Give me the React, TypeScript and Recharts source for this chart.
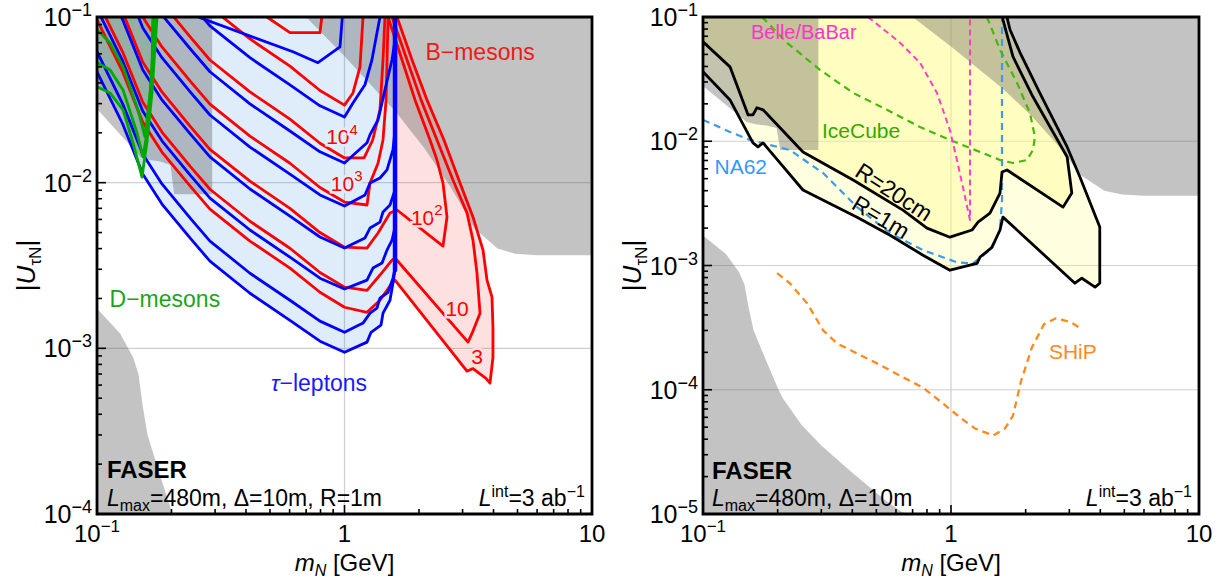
import React from "react";
import {
  ComposedChart,
  XAxis,
  YAxis,
  Scatter,
  ReferenceLine,
  ReferenceArea,
  ReferenceDot
} from "recharts";

type Pair = [number, number];

// axis ticks (log axes, minor ticks at 2..9)
const massTicks = [0.1, 0.2, 0.3, 0.4, 0.5, 0.6, 0.7, 0.8, 0.9, 1, 2, 3, 4, 5, 6, 7, 8, 9, 10];
const mixTicksLeft = [
  0.0001, 0.0002, 0.0003, 0.0004, 0.0005, 0.0006, 0.0007, 0.0008, 0.0009,
  0.001, 0.002, 0.003, 0.004, 0.005, 0.006, 0.007, 0.008, 0.009,
  0.01, 0.02, 0.03, 0.04, 0.05, 0.06, 0.07, 0.08, 0.09, 0.1
];
const mixTicksRight = [
  0.00001, 0.00002, 0.00003, 0.00004, 0.00005, 0.00006, 0.00007, 0.00008, 0.00009,
  ...mixTicksLeft
];
const gridMass = [1];
const gridMixLeft = [0.01, 0.001];
const gridMixRight = [0.01, 0.001, 0.0001];

// excluded regions (grey), same in both panels
const exclUpperLeft: Pair[] = [
  [0.1, 0.13], [0.292, 0.13], [0.292, 0.0085], [0.205, 0.0085], [0.198, 0.0128],
  [0.18, 0.0134], [0.163, 0.0137], [0.15, 0.0143], [0.1, 0.0278]
];
const exclUpperRight: Pair[] = [
  [0.7, 0.13], [0.7, 0.1], [1.0, 0.058], [1.62, 0.0265], [2.1, 0.0162], [2.7, 0.0093],
  [3.35, 0.0053], [4.15, 0.004], [4.9, 0.00372], [6.0, 0.00365], [10.5, 0.00365], [10.5, 0.13]
];
const exclLowerLeft: Pair[] = [
  [0.1, 0.00174], [0.124, 0.00123], [0.14, 0.00088], [0.147, 0.0007], [0.153, 0.00045],
  [0.16, 0.0003], [0.18, 0.00017], [0.2, 0.000104], [0.21, 0.000085], [0.25, 0.000052],
  [0.3, 0.0000356], [0.4, 0.0000215], [0.54, 0.000013], [0.65, 0.00001], [0.7, 0.000009],
  [0.1, 0.000009]
];

// tau-lepton contours (blue)
const tauA1: Pair[] = [
  [0.1, 0.0467], [0.127, 0.0226], [0.153, 0.01127], [0.183, 0.00743], [0.238, 0.00462],
  [0.286, 0.00336], [0.415, 0.00215], [0.602, 0.001476], [0.796, 0.001104], [1.0, 0.000946],
  [1.233, 0.00109], [1.28, 0.00125], [1.404, 0.00138], [1.431, 0.00163], [1.527, 0.00195],
  [1.57, 0.00248], [1.6, 0.00297]
];
const tauA2: Pair[] = [
  [0.1, 0.0617], [0.127, 0.0299], [0.153, 0.0149], [0.183, 0.00982], [0.238, 0.00611],
  [0.286, 0.00444], [0.415, 0.00284], [0.602, 0.00195], [0.796, 0.00146], [1.0, 0.00125],
  [1.188, 0.00142], [1.268, 0.00163], [1.352, 0.00175], [1.391, 0.00201], [1.499, 0.00218],
  [1.57, 0.00265], [1.6, 0.0031]
];
const tauA3: Pair[] = [
  [0.1, 0.112], [0.127, 0.0543], [0.153, 0.0271], [0.183, 0.0179], [0.238, 0.0111],
  [0.286, 0.00807], [0.415, 0.00518], [0.602, 0.00355], [0.796, 0.00265], [1.0, 0.00228],
  [1.233, 0.00258], [1.303, 0.00305], [1.418, 0.00327], [1.485, 0.00392], [1.556, 0.0045],
  [1.6, 0.0054]
];
const tauA4: Pair[] = [
  [0.1, 0.199], [0.127, 0.0962], [0.153, 0.048], [0.183, 0.0316], [0.238, 0.0197],
  [0.286, 0.0143], [0.415, 0.00916], [0.602, 0.00628], [0.796, 0.0047], [1.0, 0.00403],
  [1.21, 0.00464], [1.268, 0.00532], [1.391, 0.00578], [1.431, 0.00666], [1.527, 0.00733],
  [1.6, 0.00904]
];
const tauA5: Pair[] = [
  [0.127, 0.173], [0.153, 0.0861], [0.183, 0.0568], [0.238, 0.0353], [0.286, 0.0256],
  [0.415, 0.0164], [0.602, 0.01127], [0.796, 0.00843], [1.0, 0.00722], [1.21, 0.00843],
  [1.268, 0.00995], [1.391, 0.01067], [1.485, 0.01194], [1.57, 0.0158], [1.6, 0.0209]
];
const tauA6: Pair[] = [
  [0.153, 0.157], [0.183, 0.103], [0.238, 0.0643], [0.286, 0.0467], [0.415, 0.0299],
  [0.602, 0.0205], [0.796, 0.01535], [1.0, 0.01315], [1.233, 0.0174], [1.268, 0.0195],
  [1.366, 0.0239], [1.457, 0.0363], [1.556, 0.0552], [1.6, 0.0729]
];
const tauA7: Pair[] = [
  [0.183, 0.196], [0.238, 0.122], [0.286, 0.0885], [0.415, 0.0568], [0.602, 0.0389],
  [0.796, 0.0291], [1.0, 0.0249], [1.082, 0.0303], [1.21, 0.039], [1.291, 0.0552],
  [1.353, 0.0804], [1.391, 0.1], [1.4, 0.13]
];
const tauA8: Pair[] = [
  [0.2, 0.13], [0.261, 0.099], [0.619, 0.0617], [0.781, 0.053], [0.959, 0.066], [0.98, 0.1], [0.99, 0.13]
];
const tauEdge: Pair[] = [[1.6, 0.00297], [1.6, 0.13]];

// B-meson contours (red): 3, 10, 10^2 ... 10^6
const bm3Left: Pair[] = [
  [0.1, 0.0962], [0.127, 0.0466], [0.153, 0.0232], [0.183, 0.0153], [0.238, 0.00954],
  [0.286, 0.00693], [0.415, 0.00444], [0.602, 0.00305], [0.796, 0.00218], [1.0, 0.00177],
  [1.233, 0.00165], [1.391, 0.00195], [1.556, 0.00248]
];
const bm3Right: Pair[] = [
  [1.6, 0.00258], [3.126, 0.000728], [3.304, 0.000755], [3.73, 0.000659], [3.871, 0.000617],
  [3.98, 0.000883], [3.98, 0.00134], [3.944, 0.00204], [3.765, 0.00258], [3.628, 0.00392],
  [3.304, 0.00621], [2.929, 0.00995], [2.523, 0.0181], [2.154, 0.0316], [1.874, 0.0552],
  [1.63, 0.1], [1.6, 0.13]
];
const bm10Left: Pair[] = [
  [0.1, 0.127], [0.127, 0.0614], [0.153, 0.0307], [0.183, 0.0202], [0.238, 0.01254],
  [0.286, 0.00913], [0.415, 0.00585], [0.602, 0.00402], [0.796, 0.00287], [1.0, 0.00234],
  [1.233, 0.00224], [1.391, 0.00277], [1.556, 0.00341]
];
const bm10Right: Pair[] = [
  [1.6, 0.00351], [3.155, 0.00109], [3.275, 0.00123], [3.528, 0.00163], [3.43, 0.00284],
  [3.304, 0.0045], [3.126, 0.00656], [2.743, 0.01038], [2.364, 0.0181], [2.038, 0.0316],
  [1.788, 0.0552], [1.556, 0.1], [1.53, 0.13]
];
const bm100Left: Pair[] = [
  [0.1, 0.221], [0.127, 0.107], [0.153, 0.0535], [0.183, 0.0353], [0.238, 0.0219],
  [0.286, 0.0159], [0.415, 0.01022], [0.602, 0.007], [0.796, 0.005], [1.0, 0.00408],
  [1.233, 0.00403], [1.366, 0.00497], [1.527, 0.00656]
];
const bm100Right: Pair[] = [
  [1.63, 0.00684], [2.5, 0.00414], [2.595, 0.00621], [2.5, 0.00995], [2.364, 0.0137],
  [2.216, 0.0181], [1.927, 0.0316], [1.707, 0.0552], [1.499, 0.1], [1.47, 0.13]
];
const bm1e3: Pair[] = [
  [0.127, 0.2], [0.153, 0.1], [0.183, 0.066], [0.238, 0.041], [0.286, 0.0298], [0.415, 0.0191],
  [0.602, 0.0131], [0.796, 0.00935], [1.0, 0.00764], [1.233, 0.00733], [1.268, 0.00995],
  [1.366, 0.0131], [1.431, 0.0181], [1.472, 0.0316], [1.5, 0.1], [1.5, 0.13]
];
const bm1e4: Pair[] = [
  [0.153, 0.185], [0.183, 0.122], [0.238, 0.0758], [0.286, 0.055], [0.415, 0.0353],
  [0.602, 0.0242], [0.796, 0.0173], [1.0, 0.0141], [1.2, 0.0141], [1.3, 0.0181],
  [1.391, 0.0275], [1.431, 0.0552], [1.457, 0.1], [1.46, 0.13]
];
const bm1e5: Pair[] = [
  [0.238, 0.158], [0.286, 0.115], [0.415, 0.0737], [0.602, 0.0505], [0.796, 0.036],
  [1.0, 0.0294], [1.082, 0.0348], [1.155, 0.05], [1.188, 0.1], [1.19, 0.13]
];
const bm1e6: Pair[] = [
  [0.45, 0.13], [0.486, 0.1], [0.602, 0.0804], [0.796, 0.0804], [0.81, 0.1], [0.82, 0.13]
];

// D-meson contours (green)
const dmG1: Pair[] = [
  [0.1, 0.0379], [0.1128, 0.0348], [0.1274, 0.0275], [0.1398, 0.0174], [0.152, 0.0108],
  [0.159, 0.0174], [0.1668, 0.0348], [0.1748, 0.1], [0.176, 0.13]
];
const dmG2: Pair[] = [
  [0.1, 0.053], [0.1128, 0.048], [0.1274, 0.0363], [0.145, 0.02], [0.1534, 0.0143],
  [0.1607, 0.0217], [0.1715, 0.1], [0.172, 0.13]
];
const dmG3: Pair[] = [
  [0.1, 0.0838], [0.1128, 0.0699], [0.1274, 0.05], [0.1464, 0.0275], [0.1563, 0.0189],
  [0.1668, 0.0436], [0.168, 0.1], [0.169, 0.13]
];

// right panel: FASER reach and other experiments
const reach20cm: Pair[] = [
  [0.1, 0.0632], [0.1285, 0.0397], [0.152, 0.0163], [0.159, 0.0163], [0.165, 0.0186],
  [0.1746, 0.0179], [0.253, 0.0082], [0.403, 0.00488], [0.64, 0.00279], [0.8, 0.002],
  [0.99, 0.00169], [1.215, 0.00193], [1.285, 0.00223], [1.436, 0.00264], [1.576, 0.00383],
  [1.606, 0.00565], [1.682, 0.00587], [2.83, 0.00295], [3.07, 0.00383], [2.94, 0.00747],
  [2.14, 0.0228], [1.778, 0.0479], [1.62, 0.095], [1.6, 0.13]
];
const reach1m: Pair[] = [
  [0.1, 0.0362], [0.1285, 0.0215], [0.159, 0.0097], [0.1667, 0.009], [0.1746, 0.0097],
  [0.253, 0.00405], [0.418, 0.00245], [0.568, 0.00175], [0.771, 0.00121], [0.99, 0.000916],
  [1.273, 0.00104], [1.31, 0.00117], [1.463, 0.0014], [1.576, 0.00193], [1.62, 0.00245],
  [3.16, 0.00072], [3.37, 0.00079], [3.81, 0.00067], [3.98, 0.00072], [3.98, 0.00204],
  [3.31, 0.00515], [2.94, 0.009], [2.28, 0.0245], [1.9, 0.0515], [1.73, 0.079], [1.68, 0.1],
  [1.66, 0.13]
];
const na62: Pair[] = [
  [0.1, 0.01486], [0.1285, 0.01189], [0.1547, 0.01024], [0.224, 0.0085], [0.305, 0.00555],
  [0.418, 0.00295], [0.568, 0.00182], [0.771, 0.00133], [1.057, 0.00106], [1.227, 0.00104],
  [1.436, 0.00133], [1.576, 0.00193], [1.606, 0.00337], [1.606, 0.1]
];
const iceCube: Pair[] = [
  [0.173, 0.1], [0.218, 0.0621], [0.296, 0.0376], [0.403, 0.0245], [0.552, 0.0179],
  [0.75, 0.013], [0.99, 0.01024], [1.309, 0.0082], [1.576, 0.00706], [1.778, 0.00668],
  [2.025, 0.00706], [2.14, 0.0085], [2.18, 0.01084], [2.08, 0.0169], [1.846, 0.0295],
  [1.576, 0.0545], [1.397, 0.1]
];
const belle: Pair[] = [
  [0.463, 0.1], [0.623, 0.0621], [0.75, 0.0428], [0.878, 0.0245], [0.99, 0.0123],
  [1.057, 0.00706], [1.117, 0.00428], [1.193, 0.00232], [1.193, 0.1]
];
const ship: Pair[] = [
  [0.199, 0.000867], [0.224, 0.00072], [0.263, 0.000496], [0.305, 0.000301], [0.347, 0.000236],
  [0.418, 0.000196], [0.503, 0.000163], [0.64, 0.000126], [0.771, 0.000104], [0.928, 0.0000776],
  [1.087, 0.0000598], [1.25, 0.0000488], [1.477, 0.0000428], [1.651, 0.0000488],
  [1.778, 0.000062], [1.916, 0.000117], [2.12, 0.000219], [2.37, 0.000336], [2.65, 0.000376],
  [3.05, 0.000349], [3.28, 0.000318], [3.4, 0.00033]
];

const FONT = "'Liberation Sans', Arial, Helvetica, sans-serif";
const GREY = { fill: "#5a5a5a", opacity: 0.36, closed: true };

type Style = { stroke?: string; width?: number; fill?: string; opacity?: number; dash?: string; closed?: boolean };

const toPts = (a: Pair[]) => a.map(([x, y]) => ({ x, y }));
const noDot = () => <g />;

function trace(s: Style) {
  return (props: any) => {
    const pts = (props.points || []).filter((p: any) => Number.isFinite(p.x) && Number.isFinite(p.y));
    const d =
      pts.map((p: any, i: number) => `${i ? "L" : "M"}${p.x.toFixed(2)},${p.y.toFixed(2)}`).join(" ") +
      (s.closed ? " Z" : "");
    return (
      <path
        d={d}
        fill={s.fill ?? "none"}
        fillOpacity={s.opacity}
        stroke={s.stroke ?? "none"}
        strokeWidth={s.width}
        strokeDasharray={s.dash}
        strokeLinejoin="round"
        strokeLinecap={s.dash ? "butt" : "round"}
      />
    );
  };
}

function series(key: string, data: Pair[], s: Style) {
  return (
    <Scatter
      key={key}
      name={key}
      data={toPts(data)}
      dataKey="y"
      line={trace(s)}
      shape={noDot}
      isAnimationActive={false}
      legendType="none"
    />
  );
}

function note(key: string, x: number, y: number, draw: (cx: number, cy: number) => React.ReactElement) {
  return (
    <ReferenceDot
      key={key}
      x={x}
      y={y}
      r={0}
      ifOverflow="visible"
      zIndex={2000}
      shape={(p: any) => draw(p.cx, p.cy)}
    />
  );
}

const isDecade = (v: number) => Math.abs(Math.log10(v) - Math.round(Math.log10(v))) < 1e-6;

function XTick(props: any) {
  const { x, y, payload } = props;
  const v = payload.value as number;
  const major = isDecade(v);
  const e = Math.round(Math.log10(v));
  return (
    <g>
      <line x1={x} x2={x} y1={y} y2={y - (major ? 9 : 5)} stroke="#000" strokeWidth={1.6} />
      {major && (
        <text x={x} y={y + 28} textAnchor="middle" fontSize={24} fill="#000" fontFamily={FONT}>
          {e < 0 ? (
            <>
              10<tspan dy={-10} fontSize={17}>{"\u2212" + -e}</tspan>
            </>
          ) : e === 0 ? "1" : "10"}
        </text>
      )}
    </g>
  );
}

function YTick(props: any) {
  const { x, y, payload } = props;
  const v = payload.value as number;
  const major = isDecade(v);
  const e = Math.round(Math.log10(v));
  return (
    <g>
      <line x1={x} x2={x + (major ? 9 : 5)} y1={y} y2={y} stroke="#000" strokeWidth={1.6} />
      {major && (
        <text x={x - 5} y={y + 9} textAnchor="end" fontSize={25} fill="#000" fontFamily={FONT}>
          10<tspan dy={-10} fontSize={18}>{"\u2212" + -e}</tspan>
        </text>
      )}
    </g>
  );
}

function XTitle(props: any) {
  const vb = props.viewBox || { x: 97, y: 514, width: 495, height: 64 };
  return (
    <text x={vb.x + vb.width / 2} y={vb.y + 57} textAnchor="middle" fontSize={24} fill="#000" fontFamily={FONT}>
      <tspan fontStyle="italic">m</tspan>
      <tspan fontStyle="italic" fontSize={16} dy={5}>N</tspan>
      <tspan dy={-5}> [GeV]</tspan>
    </text>
  );
}

function YTitle(props: any) {
  const vb = props.viewBox || { x: 0, y: 17, width: 97, height: 497 };
  const cx = vb.x + vb.width - 62;
  const cy = vb.y + vb.height / 2;
  return (
    <text
      x={cx}
      y={cy}
      transform={`rotate(-90 ${cx} ${cy})`}
      textAnchor="middle"
      fontSize={26}
      fill="#000"
      fontFamily={FONT}
    >
      |<tspan fontStyle="italic">U</tspan>
      <tspan fontSize={17} dy={6}>τN</tspan>
      <tspan dy={-6}>|</tspan>
    </text>
  );
}

function axes(yDomain: [number, number], yTicks: number[], yWidth: number) {
  return [
    <XAxis
      key="x"
      dataKey="x"
      type="number"
      scale="log"
      domain={[0.1, 10]}
      allowDataOverflow
      ticks={massTicks}
      interval={0}
      tickSize={0}
      tickMargin={0}
      axisLine={false}
      tickLine={false}
      height={64}
      tick={(p: any) => <XTick {...p} />}
      label={<XTitle />}
    />,
    <YAxis
      key="y"
      dataKey="y"
      type="number"
      scale="log"
      domain={yDomain}
      allowDataOverflow
      ticks={yTicks}
      interval={0}
      tickSize={0}
      tickMargin={0}
      axisLine={false}
      tickLine={false}
      width={yWidth}
      tick={(p: any) => <YTick {...p} />}
      label={<YTitle />}
    />
  ];
}

function grid(mix: number[]) {
  return [
    ...gridMass.map((m) => <ReferenceLine key={"gx" + m} x={m} stroke="#cfcfcf" strokeWidth={1.2} />),
    ...mix.map((u) => <ReferenceLine key={"gy" + u} y={u} stroke="#cfcfcf" strokeWidth={1.2} />)
  ];
}

function frame(yMin: number) {
  return (
    <ReferenceArea
      key="frame"
      x1={0.1}
      x2={10}
      y1={yMin}
      y2={0.1}
      fill="none"
      fillOpacity={0}
      stroke="#000"
      strokeWidth={2.8}
      ifOverflow="visible"
      zIndex={2100}
    />
  );
}

const RED = "#ff0000";
const BLUE = "#0000ff";
const GREEN = "#00a800";

function contourLabel(text: React.ReactNode, bg: string) {
  return (cx: number, cy: number) => (
    <text
      x={cx}
      y={cy}
      textAnchor="middle"
      dominantBaseline="central"
      fontSize={21}
      fill={RED}
      stroke={bg}
      strokeWidth={5}
      paintOrder="stroke"
      fontFamily={FONT}
    >
      {text}
    </text>
  );
}

function FaserText(left: number, top: number, line2: number, right: number, detail: string) {
  return [
    note("faser", left, top, (cx, cy) => (
      <text x={cx} y={cy} fontSize={24} fontWeight="bold" fill="#000" fontFamily={FONT}>FASER</text>
    )),
    note("lmax", left, line2, (cx, cy) => (
      <text x={cx} y={cy} fontSize={23} fill="#000" fontFamily={FONT}>
        <tspan fontStyle="italic">L</tspan>
        <tspan fontSize={16} dy={5}>max</tspan>
        <tspan dy={-5}>{detail}</tspan>
      </text>
    )),
    note("lint", right, line2, (cx, cy) => (
      <text x={cx} y={cy} fontSize={23} textAnchor="end" fill="#000" fontFamily={FONT}>
        <tspan fontStyle="italic">L</tspan>
        <tspan fontSize={16} dy={-9}>int</tspan>
        <tspan dy={9}>=3 ab</tspan>
        <tspan fontSize={16} dy={-9}>−1</tspan>
      </text>
    ))
  ];
}

function LeftPanel() {
  const bg = { blue: "#e0eefb", pink: "#fde0e0" };
  return (
    <ComposedChart width={614} height={578} margin={{ top: 17, right: 22, bottom: 0, left: 0 }} style={{ fontFamily: FONT }}>
      {axes([0.0001, 0.1], mixTicksLeft, 97)}
      {grid(gridMixLeft)}
      {series("blueFill", [...tauA1, [1.6, 0.13], [0.1, 0.13]], { fill: "#1e82e6", opacity: 0.14, closed: true })}
      {series("pinkFill", [...bm3Right, [1.6, 0.13]], { fill: "#f03c3c", opacity: 0.16, closed: true })}
      {series("greenFill", [...dmG1, [0.1, 0.13]], { fill: "#1e9a1e", opacity: 0.18, closed: true })}
      {series("exclUL", exclUpperLeft, GREY)}
      {series("exclUR", exclUpperRight, GREY)}
      {series("exclLL", exclLowerLeft, GREY)}
      {series("bm1e6", bm1e6, { stroke: RED, width: 2.8 })}
      {series("bm1e5", bm1e5, { stroke: RED, width: 2.8 })}
      {series("bm1e4", bm1e4, { stroke: RED, width: 2.8 })}
      {series("bm1e3", bm1e3, { stroke: RED, width: 2.8 })}
      {series("bm100", [...bm100Left, ...bm100Right], { stroke: RED, width: 2.8 })}
      {series("bm10", [...bm10Left, ...bm10Right], { stroke: RED, width: 2.8 })}
      {series("bm3", [...bm3Left, ...bm3Right], { stroke: RED, width: 2.8 })}
      {series("tauA8", tauA8, { stroke: BLUE, width: 2.8 })}
      {series("tauA7", tauA7, { stroke: BLUE, width: 2.8 })}
      {series("tauA6", tauA6, { stroke: BLUE, width: 2.8 })}
      {series("tauA5", tauA5, { stroke: BLUE, width: 2.8 })}
      {series("tauA4", tauA4, { stroke: BLUE, width: 2.8 })}
      {series("tauA3", tauA3, { stroke: BLUE, width: 2.8 })}
      {series("tauA2", tauA2, { stroke: BLUE, width: 2.8 })}
      {series("tauA1", tauA1, { stroke: BLUE, width: 2.8 })}
      {series("tauEdge", tauEdge, { stroke: BLUE, width: 4.5 })}
      {series("dmG3", dmG3, { stroke: GREEN, width: 2.8 })}
      {series("dmG2", dmG2, { stroke: GREEN, width: 2.8 })}
      {series("dmG1", dmG1, { stroke: GREEN, width: 2.8 })}
      {note("bmes", 3.53, 0.0617, (cx, cy) => (
        <text x={cx} y={cy} textAnchor="middle" dominantBaseline="central" fontSize={23} fill="#f01818" fontFamily={FONT}>B−mesons</text>
      ))}
      {note("dmes", 0.188, 0.00198, (cx, cy) => (
        <text x={cx} y={cy} textAnchor="middle" dominantBaseline="central" fontSize={23} fill="#1aa51a" fontFamily={FONT}>D−mesons</text>
      ))}
      {note("tlep", 0.789, 0.000615, (cx, cy) => (
        <text x={cx} y={cy} textAnchor="middle" dominantBaseline="central" fontSize={23} fill="#1a1aff" fontFamily={FONT}>
          <tspan fontStyle="italic">τ</tspan>−leptons
        </text>
      ))}
      {note("c1e4", 0.977, 0.0189, contourLabel(<>10<tspan dy={-8} fontSize={15}>4</tspan></>, bg.blue))}
      {note("c1e3", 1.02, 0.00995, contourLabel(<>10<tspan dy={-8} fontSize={15}>3</tspan></>, bg.blue))}
      {note("c100", 2.15, 0.0062, contourLabel(<>10<tspan dy={-8} fontSize={15}>2</tspan></>, bg.pink))}
      {note("c10", 2.85, 0.00175, contourLabel("10", bg.pink))}
      {note("c3", 3.43, 0.000895, contourLabel("3", bg.pink))}
      {FaserText(0.1097, 0.000164, 0.000111, 9.36, "=480m, Δ=10m, R=1m")}
      {frame(0.0001)}
    </ComposedChart>
  );
}

function RightPanel() {
  const dashed = (c: string, w = 2.2): Style => ({ stroke: c, width: w, dash: "7 5" });
  return (
    <ComposedChart width={614} height={578} margin={{ top: 17, right: 29, bottom: 0, left: 0 }} style={{ fontFamily: FONT }}>
      {axes([0.00001, 0.1], mixTicksRight, 89)}
      {grid(gridMixRight)}
      {series("fill1m", [...reach1m, [0.1, 0.13]], { fill: "#ffff8c", opacity: 0.27, closed: true })}
      {series("fill20", [...reach20cm, [0.1, 0.13]], { fill: "#fffa78", opacity: 0.3, closed: true })}
      {series("exclUL", exclUpperLeft, GREY)}
      {series("exclUR", exclUpperRight, GREY)}
      {series("exclLL", exclLowerLeft, GREY)}
      {series("na62", na62, dashed("#3a9bee"))}
      {series("icecube", iceCube, dashed("#44b80c"))}
      {series("belle", belle, { stroke: "#ff3fc8", width: 2, dash: "6 4" })}
      {series("ship", ship, dashed("#ff8a1a", 2.3))}
      {series("r1m", reach1m, { stroke: "#000", width: 2.8 })}
      {series("r20", reach20cm, { stroke: "#000", width: 2.8 })}
      {note("belleL", 0.255, 0.0762, (cx, cy) => (
        <text x={cx} y={cy} textAnchor="middle" dominantBaseline="central" fontSize={20} fill="#ff33cc" fontFamily={FONT}>Belle/BaBar</text>
      ))}
      {note("iceL", 0.434, 0.0123, (cx, cy) => (
        <text x={cx} y={cy} textAnchor="middle" dominantBaseline="central" fontSize={21} fill="#33a800" fontFamily={FONT}>IceCube</text>
      ))}
      {note("naL", 0.142, 0.00632, (cx, cy) => (
        <text x={cx} y={cy} textAnchor="middle" dominantBaseline="central" fontSize={21} fill="#3399ff" fontFamily={FONT}>NA62</text>
      ))}
      {note("shipL", 3.1, 0.000204, (cx, cy) => (
        <text x={cx} y={cy} textAnchor="middle" dominantBaseline="central" fontSize={21} fill="#ff8a1a" fontFamily={FONT}>SHiP</text>
      ))}
      {note("r20L", 0.589, 0.0039, (cx, cy) => (
        <text x={cx} y={cy} transform={`rotate(33 ${cx} ${cy})`} textAnchor="middle" dominantBaseline="central" fontSize={23} fill="#000" fontFamily={FONT}>R=20cm</text>
      ))}
      {note("r1mL", 0.522, 0.00245, (cx, cy) => (
        <text x={cx} y={cy} transform={`rotate(31 ${cx} ${cy})`} textAnchor="middle" dominantBaseline="central" fontSize={23} fill="#000" fontFamily={FONT}>R=1m</text>
      ))}
      {FaserText(0.1087, 0.0000193, 0.0000115, 9.37, "=480m, Δ=10m")}
      {frame(0.00001)}
    </ComposedChart>
  );
}

export default function App() {
  return (
    <div
      style={{
        position: "absolute",
        left: 0,
        top: 0,
        width: 1228,
        height: 578,
        background: "#fff",
        fontFamily: FONT,
        overflow: "hidden"
      }}
    >
      <div style={{ position: "absolute", left: 0, top: 0 }}>
        <LeftPanel />
      </div>
      <div style={{ position: "absolute", left: 614, top: 0 }}>
        <RightPanel />
      </div>
    </div>
  );
}
